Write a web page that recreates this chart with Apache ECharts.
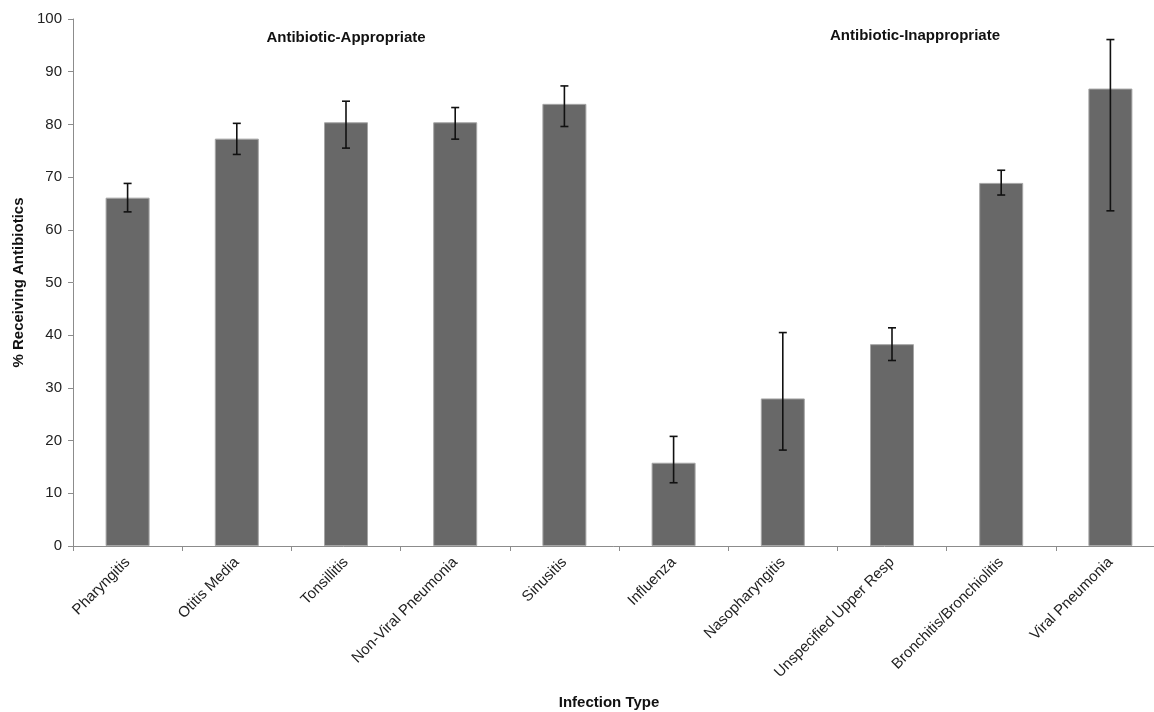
<!DOCTYPE html>
<html>
<head>
<meta charset="utf-8">
<script src="https://cdn.jsdelivr.net/npm/echarts@6/dist/echarts.min.js"></script>
<style>
html,body{margin:0;padding:0;background:#fff;}
#chart{width:1154px;height:712px;}
</style>
</head>
<body>
<div id="chart"></div>
<script>
var categories = ['Pharyngitis', 'Otitis Media', 'Tonsillitis', 'Non-Viral Pneumonia', 'Sinusitis',
  'Influenza', 'Nasopharyngitis', 'Unspecified Upper Resp', 'Bronchitis/Bronchiolitis', 'Viral Pneumonia'];
var values  = [66.1, 77.3, 80.4, 80.4, 83.9, 15.8, 28.0, 38.3, 68.9, 86.8];
var errLow  = [63.4, 74.3, 75.5, 77.2, 79.6, 12.0, 18.2, 35.2, 66.6, 63.6];
var errHigh = [68.8, 80.2, 84.4, 83.2, 87.3, 20.8, 40.5, 41.4, 71.3, 96.1];
var yTicks = [0, 10, 20, 30, 40, 50, 60, 70, 80, 90, 100];
var groupLabels = ['Antibiotic-Appropriate', 'Antibiotic-Inappropriate'];

var errData = categories.map(function (c, i) { return [i, errLow[i], errHigh[i]]; });
var font = 'Arial, "Liberation Sans", sans-serif';

var chart = echarts.init(document.getElementById('chart'));
chart.setOption({
  animation: false,
  backgroundColor: '#ffffff',
  grid: { left: 73, top: 19, width: 1092, height: 527, containLabel: false, outerBoundsMode: 'none' },
  xAxis: {
    type: 'category',
    data: categories,
    boundaryGap: true,
    axisLine: { show: true, lineStyle: { color: '#8c8c8c', width: 1 } },
    axisTick: { show: true, length: 5, lineStyle: { color: '#8c8c8c' } },
    axisLabel: { rotate: 45, margin: 14, fontSize: 15, color: '#222', fontFamily: font },
    splitLine: { show: false }
  },
  yAxis: {
    type: 'value',
    min: yTicks[0], max: yTicks[yTicks.length - 1], interval: 10,
    name: '% Receiving Antibiotics',
    nameLocation: 'middle',
    nameGap: 45,
    nameRotate: 90,
    nameTextStyle: { fontSize: 15, fontWeight: 'bold', color: '#111', fontFamily: font },
    axisLine: { show: true, lineStyle: { color: '#8c8c8c', width: 1 } },
    axisTick: { show: true, length: 5, lineStyle: { color: '#8c8c8c' } },
    axisLabel: { fontSize: 15, color: '#222', margin: 11, fontFamily: font },
    splitLine: { show: false }
  },
  graphic: [
    { type: 'text', style: { text: groupLabels[0], x: 346, y: 38, align: 'center', verticalAlign: 'middle', font: 'bold 15px ' + font, fill: '#111' } },
    { type: 'text', style: { text: groupLabels[1], x: 915, y: 36, align: 'center', verticalAlign: 'middle', font: 'bold 15px ' + font, fill: '#111' } },
    { type: 'text', style: { text: 'Infection Type', x: 609, y: 703, align: 'center', verticalAlign: 'middle', font: 'bold 15px ' + font, fill: '#111' } }
  ],
  series: [
    {
      type: 'bar',
      data: values,
      barWidth: 44,
      itemStyle: { color: '#686868', borderColor: '#a5a5a5', borderWidth: 1 }
    },
    {
      type: 'custom',
      data: errData,
      z: 10,
      renderItem: function (params, api) {
        var x = api.value(0);
        var lo = api.coord([x, api.value(1)]);
        var hi = api.coord([x, api.value(2)]);
        var cap = 4;
        var st = { stroke: '#111', lineWidth: 1.6 };
        return {
          type: 'group',
          children: [
            { type: 'line', shape: { x1: lo[0], y1: lo[1], x2: hi[0], y2: hi[1] }, style: st },
            { type: 'line', shape: { x1: hi[0] - cap, y1: hi[1], x2: hi[0] + cap, y2: hi[1] }, style: st },
            { type: 'line', shape: { x1: lo[0] - cap, y1: lo[1], x2: lo[0] + cap, y2: lo[1] }, style: st }
          ]
        };
      }
    }
  ]
});
</script>
</body>
</html>
